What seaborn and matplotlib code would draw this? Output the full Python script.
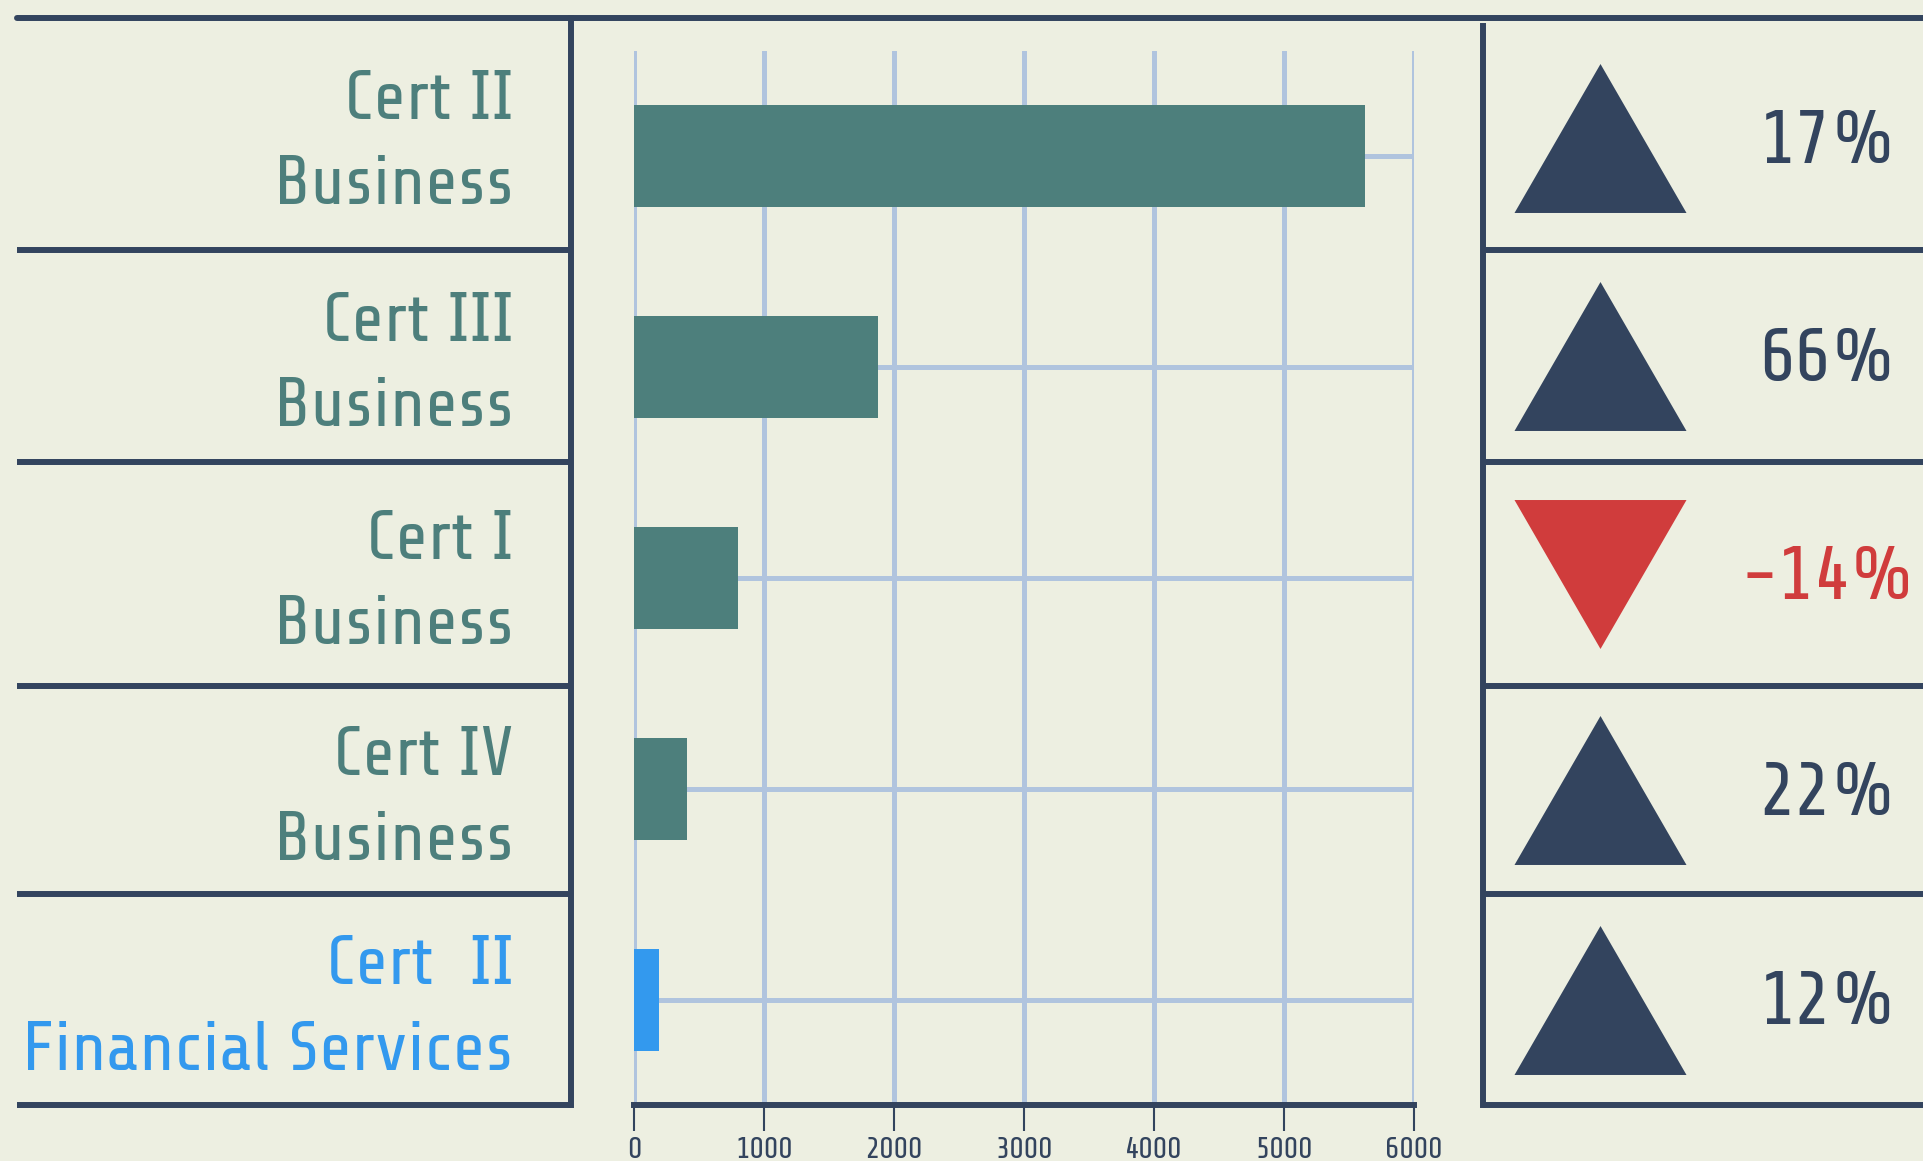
import seaborn as sns
import pandas as pd
import matplotlib.pyplot as plt
import numpy as np
from matplotlib.lines import Line2D

# data
courses = ["Cert II\nBusiness", "Cert III\nBusiness", "Cert I\nBusiness",
           "Cert IV\nBusiness", "Cert  II\nFinancial Services"]
enrolments = [5620, 1880, 800, 410, 190]
change_pct = [17, 66, -14, 22, 12]
bar_colors = ["#4d7f7c", "#4d7f7c", "#4d7f7c", "#4d7f7c", "#3399ee"]
label_colors = ["#4d7f7c", "#4d7f7c", "#4d7f7c", "#4d7f7c", "#3399ee"]
xticks = [0, 1000, 2000, 3000, 4000, 5000, 6000]

bg = "#edefe1"
navy = "#33445e"
red = "#d03c3c"
grid_col = "#b0c4de"
rule_lw = 4.3

sns.set_theme(style="white")
plt.rcParams['font.family'] = ['Share Tech', 'DejaVu Sans']

W, H = 1923, 1161
fig = plt.figure(figsize=(W / 100, H / 100), dpi=100, facecolor=bg)


def box(x0, y0, x1, y1):
    # pixel box (top-left origin) -> figure fraction
    return [x0 / W, 1 - y1 / H, (x1 - x0) / W, (y1 - y0) / H]


# row edges of the side panels (pixels from top)
left_edges = [18, 250, 462, 686, 894, 1105]
right_edges = [26, 250, 462, 686, 894, 1105]

ax = fig.add_axes(box(634, 51, 1414, 1105))
axl = fig.add_axes(box(17, 0, 571, H))
axr = fig.add_axes(box(1483, 0, W, H))

# bar chart
df = pd.DataFrame({"course": courses, "enrolments": enrolments})
sns.barplot(data=df, x="enrolments", y="course", hue="course", palette=bar_colors,
            legend=False, width=0.483, saturation=1, ax=ax, zorder=3, linewidth=0)
ax.set_xlim(0, 6000)
ax.set_xticks(xticks)
ax.set_facecolor("none")
ax.grid(True, color=grid_col, lw=3.6)
ax.set_axisbelow(True)
ax.set_yticklabels([])
ax.set_xlabel("")
ax.set_ylabel("")
ax.tick_params(axis="y", length=0)
ax.tick_params(axis="x", length=19, width=1.5, color=navy, labelcolor=navy,
               labelsize=22, pad=4, bottom=True)
for s in ["top", "left", "right"]:
    ax.spines[s].set_visible(False)
ax.spines["bottom"].set_color(navy)
ax.spines["bottom"].set_linewidth(rule_lw)

# side panels work in pixel units
for a in (axl, axr):
    a.set_facecolor("none")
    a.set_xlim(0, 1)
    a.set_ylim(H, 0)
    a.set_xticks([])
    a.set_yticks([])
    for s in a.spines.values():
        s.set_visible(False)

# left label panel
for e in left_edges[1:]:
    axl.axhline(e, color=navy, lw=rule_lw)
axl.plot([1, 1], [left_edges[0], left_edges[-1]], color=navy, lw=rule_lw,
         solid_capstyle="projecting", clip_on=False)
for i, (lab, c) in enumerate(zip(courses, label_colors)):
    yc = (left_edges[i] + left_edges[i + 1]) / 2 + 9
    axl.text(0.896, yc, lab, ha="right", va="center", color=c, fontsize=50.5,
             linespacing=1.5, multialignment="right")

# right change panel
for e in right_edges[1:]:
    axr.axhline(e, color=navy, lw=rule_lw)
axr.plot([0, 0], [right_edges[0], right_edges[-1]], color=navy, lw=rule_lw,
         solid_capstyle="projecting", clip_on=False)

up = [(0, 0.433), (-0.5, -0.433), (0.5, -0.433)]
down = [(0, -0.433), (-0.5, 0.433), (0.5, 0.433)]
tri_size = (172 * 0.72) ** 2
for i, v in enumerate(change_pct):
    col = navy if v >= 0 else red
    yc = (right_edges[i] + right_edges[i + 1]) / 2
    axr.scatter([0.266], [yc], marker=up if v >= 0 else down, s=tri_size,
                color=col, linewidths=0)
    axr.text(0.784, yc + 5, f"{v}%", ha="center", va="center", color=col, fontsize=55)

# top rule across the whole figure
fig.add_artist(Line2D([17 / W, 1], [1 - 18 / H, 1 - 18 / H], color=navy, lw=rule_lw))

fig.savefig("out.png", dpi=100, facecolor=bg)
